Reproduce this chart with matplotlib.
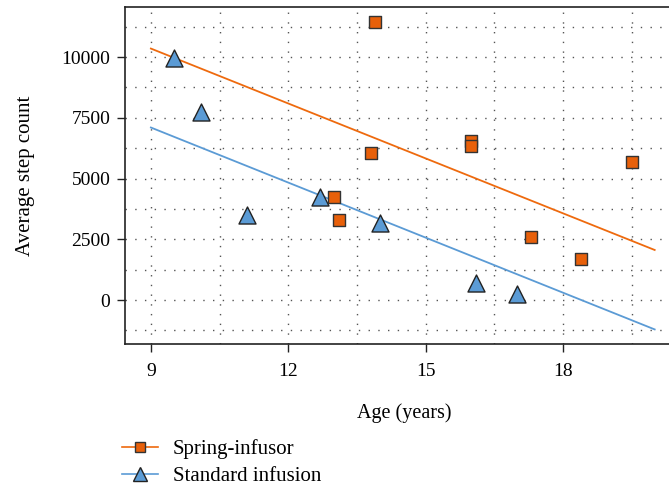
import numpy as np
import matplotlib
matplotlib.use('Agg')
import matplotlib.pyplot as plt
from matplotlib.ticker import MultipleLocator

plt.rcParams['font.family'] = ['Liberation Serif', 'DejaVu Serif']

# ── Data ──────────────────────────────────────────────────────────────────────
spring_age   = [13.9, 13.8, 16.0, 16.0, 19.5, 13.0, 13.1, 17.3, 18.4]
spring_steps = [11430, 6060, 6550, 6350, 5700, 4230, 3310, 2600, 1700]

standard_age   = [9.5, 10.1, 11.1, 12.7, 14.0, 16.1, 17.0]
standard_steps = [9950, 7720, 3490, 4260, 3190, 710, 260]

# fitted lines: value at age 9 and at age 20
fit_age      = [9, 20]
spring_fit   = [10350, 2060]
standard_fit = [7100, -1210]

ORANGE = '#EE6A0E'
BLUE   = '#5B9BD5'

# ── Figure ────────────────────────────────────────────────────────────────────
fig = plt.figure(figsize=(6.69, 4.86), dpi=100)
ax = fig.add_axes([125/669, 1 - 344/486, 548/669, 337/486])

ax.plot(fit_age, spring_fit, color=ORANGE, linewidth=1.3, zorder=2)
ax.plot(fit_age, standard_fit, color=BLUE, linewidth=1.3, zorder=2)

ax.scatter(standard_age, standard_steps, marker='^', s=150, color=BLUE,
           edgecolor='#222222', linewidth=1.0, zorder=3)
ax.scatter(spring_age, spring_steps, marker='s', s=65, color='#E8600A',
           edgecolor='#333333', linewidth=1.0, zorder=3)

ax.set_xlim(8.435, 20.4)
ax.set_ylim(-1810, 12060)
ax.xaxis.set_major_locator(MultipleLocator(3))
ax.xaxis.set_minor_locator(MultipleLocator(1.5))
ax.yaxis.set_major_locator(MultipleLocator(2500))
ax.yaxis.set_minor_locator(MultipleLocator(1250))

ax.grid(True, which='both', color='#555555', linestyle=(0, (1, 6)), linewidth=1.0)
ax.set_axisbelow(True)

ax.tick_params(which='major', direction='out', length=5.5, width=1, labelsize=14,
               color='#222222', pad=5)
ax.tick_params(axis='x', which='major', pad=8)
ax.tick_params(which='minor', length=0)
for s in ax.spines.values():
    s.set_linewidth(1.2)
    s.set_color('#222222')
ax.spines['right'].set_visible(False)

ax.set_xlabel('Age (years)', fontsize=14.5)
ax.set_ylabel('Average step count', fontsize=15)
ax.xaxis.set_label_coords(0.51, -0.175)
ax.yaxis.set_label_coords(-0.165, 0.5)

h1, = ax.plot([], [], color=ORANGE, linewidth=1.2, marker='s', markersize=6.5,
              markerfacecolor='#E8600A', markeredgecolor='#333333')
h2, = ax.plot([], [], color=BLUE, linewidth=1.2, marker='^', markersize=10,
              markerfacecolor=BLUE, markeredgecolor='#222222')
fig.legend([h1, h2], ['Spring-infusor', 'Standard infusion'],
           loc='upper left', bbox_to_anchor=(122/669, 1 - 439/486),
           frameon=False, fontsize=15, handlelength=1.75, handletextpad=0.7,
           labelspacing=0.38, borderaxespad=0, borderpad=0)

fig.savefig('out.png', dpi=100)
